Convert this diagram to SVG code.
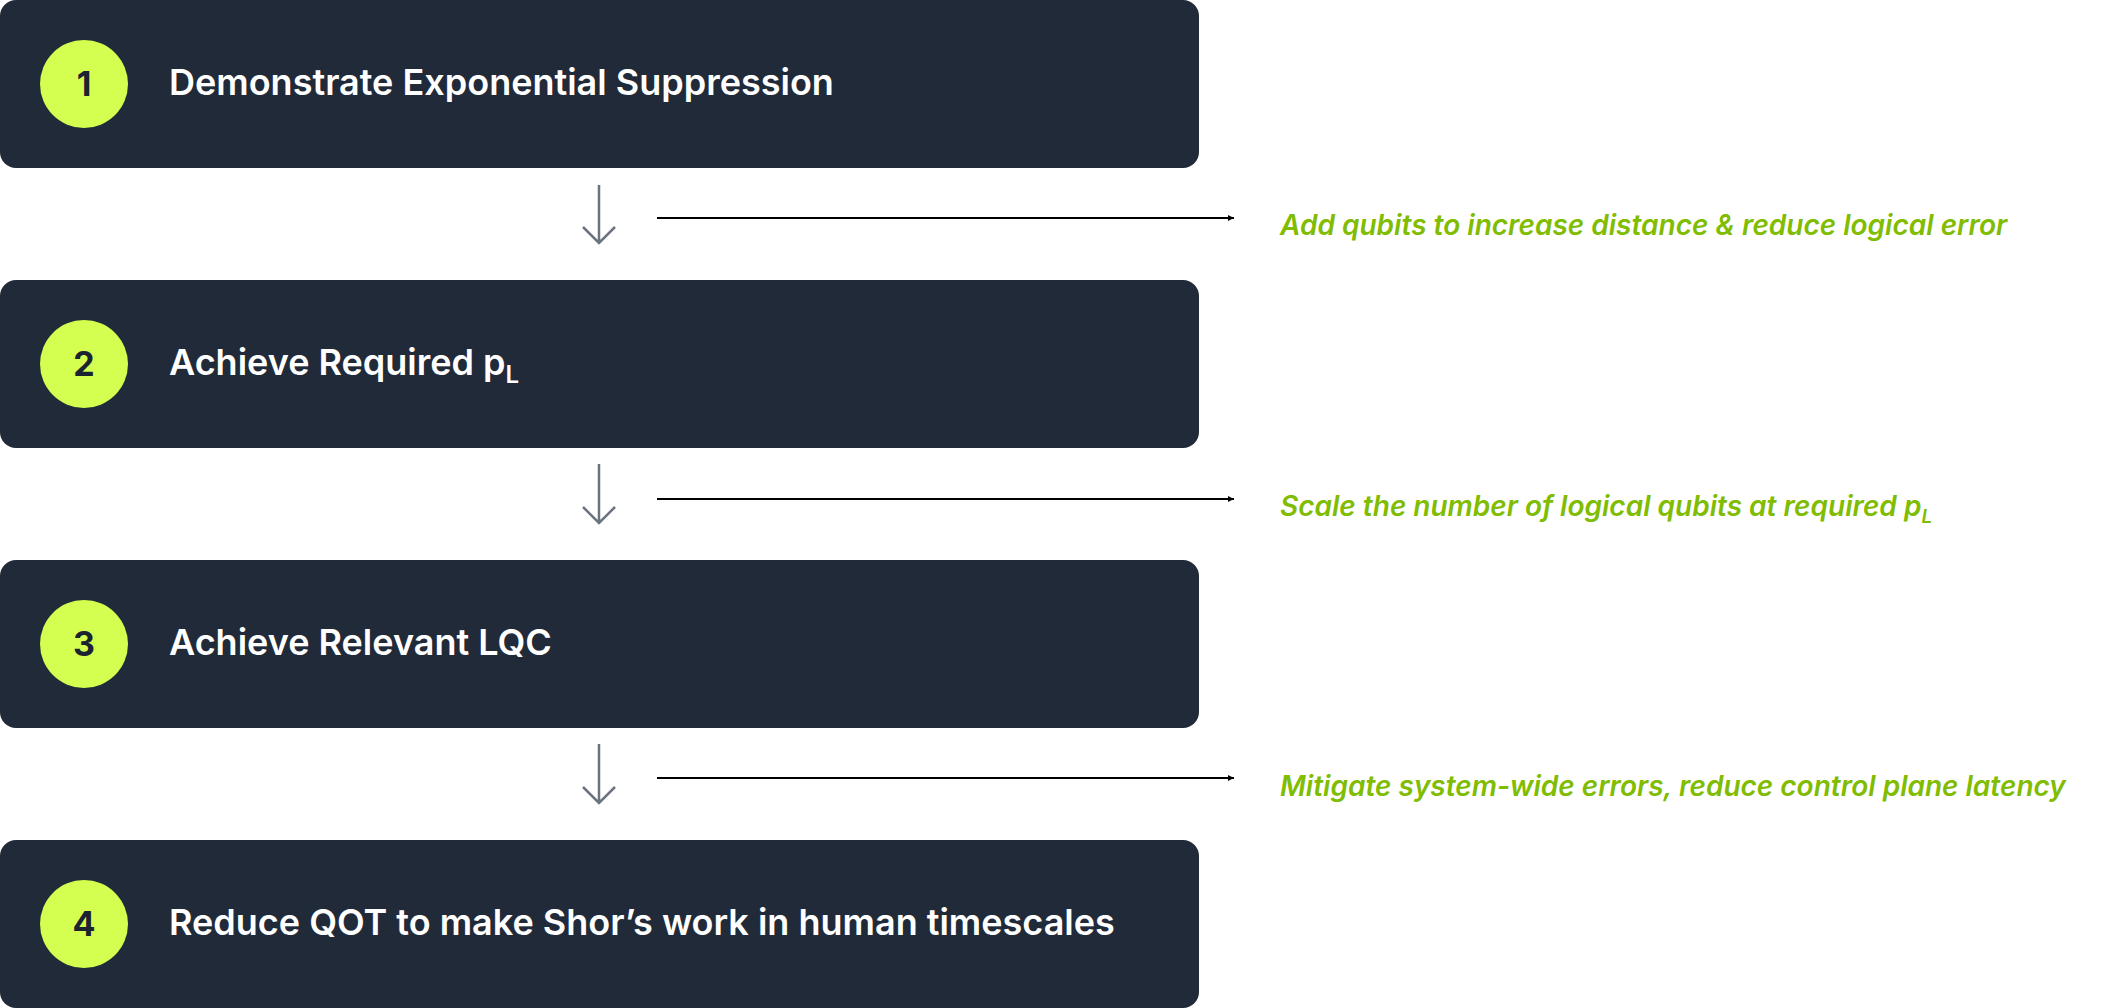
<svg xmlns="http://www.w3.org/2000/svg" width="2122" height="1008" viewBox="0 0 2122 1008">
<defs>
<style>
.box{fill:#212a39}
.circ{fill:#d4ff50}
.num{font-family:Inter,"Liberation Sans",sans-serif;font-weight:700;font-size:34px;fill:#1b2230;text-anchor:middle}
.lbl{font-family:Inter,"Liberation Sans",sans-serif;font-weight:600;font-size:36px;fill:#ffffff}
.note{font-family:Inter,"Liberation Sans",sans-serif;font-weight:600;font-style:italic;font-size:28px;fill:#80bc00}
.down{stroke:#6b7280;stroke-width:2.5;fill:none}
.side{stroke:#000;stroke-width:2;fill:none}
</style>
<marker id="ah" viewBox="0 0 10 10" refX="10" refY="5" markerWidth="6" markerHeight="6" orient="auto" markerUnits="userSpaceOnUse"><path d="M0,0L10,5L0,10z" fill="#000"/></marker>
</defs>
<rect width="2122" height="1008" fill="#fff"/>
<g id="node1"><rect class="box" x="0" y="0" width="1199" height="168" rx="16"/><circle class="circ" cx="84" cy="84" r="44"/><text class="num" x="84" y="96">1</text><text class="lbl" x="169" y="95">Demonstrate Exponential Suppression</text></g>
<g id="node2"><rect class="box" x="0" y="280" width="1199" height="168" rx="16"/><circle class="circ" cx="84" cy="364" r="44"/><text class="num" x="84" y="376">2</text><text class="lbl" x="169" y="375">Achieve Required p<tspan font-size="24" dy="8">L</tspan></text></g>
<g id="node3"><rect class="box" x="0" y="560" width="1199" height="168" rx="16"/><circle class="circ" cx="84" cy="644" r="44"/><text class="num" x="84" y="656">3</text><text class="lbl" x="169" y="655">Achieve Relevant LQC</text></g>
<g id="node4"><rect class="box" x="0" y="840" width="1199" height="168" rx="16"/><circle class="circ" cx="84" cy="924" r="44"/><text class="num" x="84" y="936">4</text><text class="lbl" x="169" y="935">Reduce QOT to make Shor’s work in human timescales</text></g>
<g id="connectors">
<path class="down" d="M599,185V243M583,227L599,243L615,227"/>
<path class="down" d="M599,464V523M583,507L599,523L615,507"/>
<path class="down" d="M599,744V803M583,787L599,803L615,787"/>
<line class="side" x1="657" y1="218" x2="1234" y2="218" marker-end="url(#ah)"/>
<line class="side" x1="657" y1="499" x2="1234" y2="499" marker-end="url(#ah)"/>
<line class="side" x1="657" y1="778" x2="1234" y2="778" marker-end="url(#ah)"/>
</g>
<g id="notes">
<text class="note" x="1280" y="235">Add qubits to increase distance &amp; reduce logical error</text>
<text class="note" x="1280" y="516">Scale the number of logical qubits at required p<tspan font-size="19" dy="7">L</tspan></text>
<text class="note" x="1280" y="796">Mitigate system-wide errors, reduce control plane latency</text>
</g>
</svg>
